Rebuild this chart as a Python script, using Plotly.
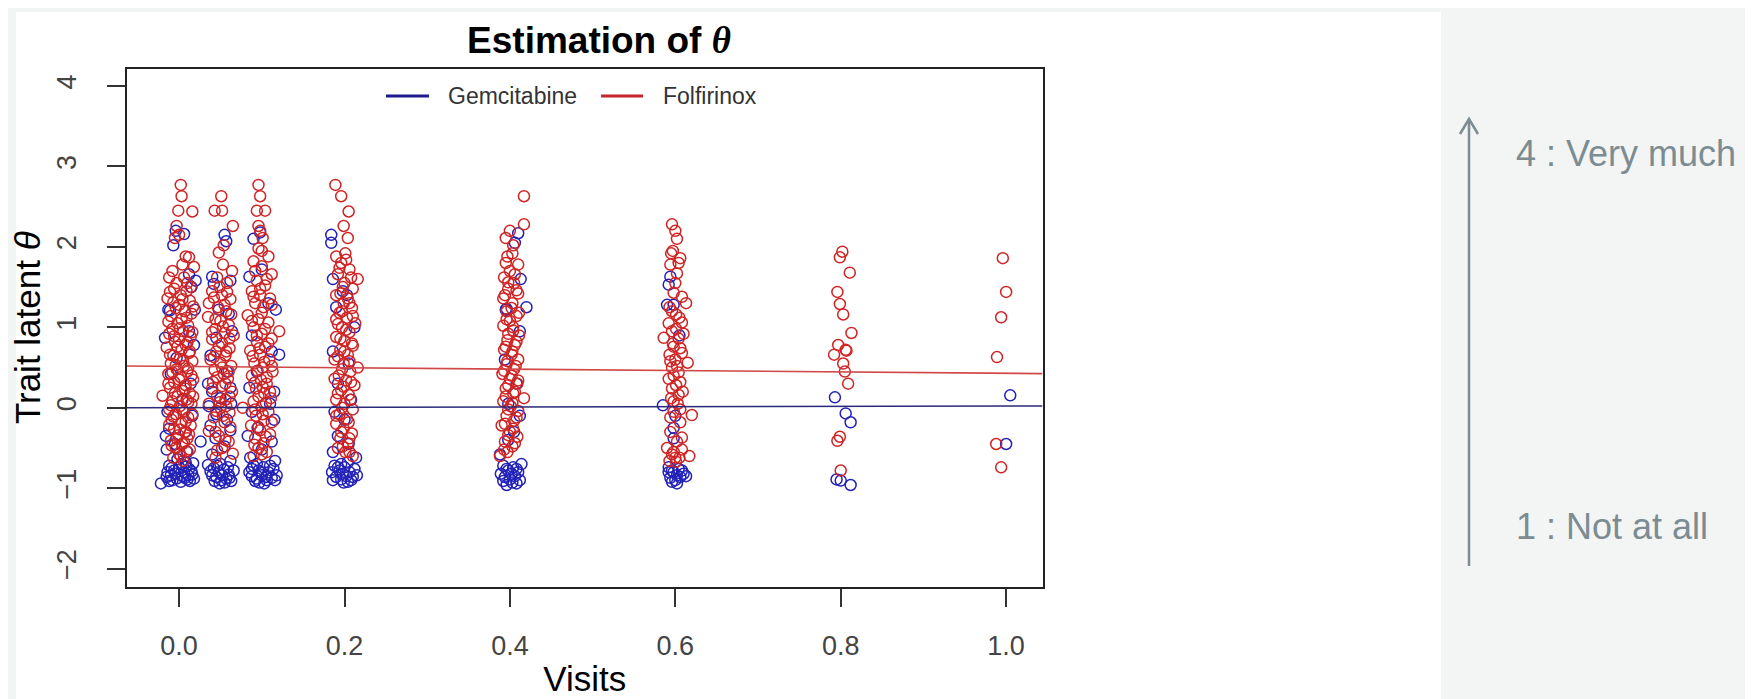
import plotly.graph_objects as go

# ---------------- data ----------------
visits = [0.0, 0.05, 0.1, 0.2, 0.4, 0.6, 0.8, 1.0]
x_tick_vals = [0.0, 0.2, 0.4, 0.6, 0.8, 1.0]
x_tick_text = ["0.0", "0.2", "0.4", "0.6", "0.8", "1.0"]
y_tick_vals = [-2, -1, 0, 1, 2, 3, 4]
series_names = ["Gemcitabine", "Folfirinox"]

# Gemcitabine (blue) jittered points (x, theta)
gem_v0 = [(-0.007,2.02),(-0.004,2.20),(0.006,2.16),(0.012,1.66),(0.020,1.58),(0.015,1.50),(-0.013,1.22),(-0.011,1.21),
          (0.019,1.22),(-0.017,0.87),(0.012,0.95),(0.018,0.78),(-0.003,0.62),(0.014,0.30),(-0.010,0.42),(0.004,0.10),
          (-0.014,-0.05),(0.016,-0.10),(-0.012,-0.26),(-0.016,-0.35),(0.008,-0.30),(-0.005,-0.45),(-0.015,-0.52),
          (0.010,-0.55),(0.017,-0.69),(-0.022,-0.94),(-0.012,-0.72),(-0.006,-0.78),(0.000,-0.74),(0.006,-0.80),
          (0.012,-0.76),(-0.010,-0.84),(-0.003,-0.88),(0.004,-0.85),(0.010,-0.89),(0.016,-0.83),(-0.008,-0.90),
          (0.002,-0.92),(0.013,-0.91),(-0.014,-0.80),(0.008,-0.68),(-0.002,-0.64),(0.018,-0.88),
          (-0.015,-0.86),(-0.009,-0.75),(0.003,-0.70),(0.009,-0.73),(0.015,-0.79),(-0.005,-0.82),(0.007,-0.87),
          (-0.012,-0.91),(0.011,-0.84)]
gem_v05 = [(0.055,2.15),(0.057,2.07),(0.040,1.63),(0.042,1.54),(0.062,1.58),(0.060,1.17),(0.048,1.22),(0.045,0.87),
           (0.064,0.95),(0.038,0.65),(0.058,0.45),(0.035,0.30),(0.040,0.20),(0.062,0.25),(0.050,0.12),(0.036,0.02),
           (0.063,0.05),(0.045,-0.08),(0.058,-0.15),(0.038,-0.22),(0.062,-0.28),(0.026,-0.42),(0.044,-0.38),
           (0.055,-0.48),(0.040,-0.58),(0.035,-0.71),(0.062,-0.66),(0.042,-0.75),(0.048,-0.80),(0.054,-0.77),
           (0.060,-0.83),(0.045,-0.86),(0.051,-0.90),(0.057,-0.88),(0.040,-0.84),(0.063,-0.91),(0.049,-0.94),
           (0.055,-0.93),(0.066,-0.78),
           (0.038,-0.79),(0.046,-0.72),(0.052,-0.84),(0.059,-0.74),(0.043,-0.91),(0.061,-0.87),(0.050,-0.70)]
gem_v1 = [(0.090,2.10),(0.098,2.18),(0.085,1.63),(0.100,1.72),(0.117,1.22),(0.108,1.30),(0.112,0.70),(0.121,0.66),
          (0.088,0.90),(0.115,0.20),(0.094,0.45),(0.085,0.25),(0.110,0.05),(0.088,-0.05),(0.115,-0.15),(0.095,-0.25),
          (0.083,-0.35),(0.112,-0.42),(0.100,-0.52),(0.086,-0.62),(0.116,-0.66),(0.090,-0.72),(0.096,-0.78),
          (0.102,-0.74),(0.108,-0.80),(0.114,-0.76),(0.088,-0.85),(0.094,-0.88),(0.100,-0.84),(0.106,-0.90),
          (0.112,-0.87),(0.097,-0.93),(0.103,-0.94),(0.085,-0.80),(0.118,-0.84),
          (0.088,-0.76),(0.094,-0.70),(0.105,-0.86),(0.110,-0.72),(0.092,-0.91),(0.116,-0.90),(0.099,-0.80)]
gem_v2 = [(0.184,2.15),(0.184,2.05),(0.186,1.60),(0.203,1.40),(0.198,1.45),(0.190,1.25),(0.212,1.00),(0.186,0.70),
          (0.205,0.55),(0.192,0.30),(0.208,0.10),(0.188,-0.05),(0.200,-0.15),(0.192,-0.35),(0.205,-0.45),
          (0.186,-0.55),(0.214,-0.62),(0.188,-0.72),(0.194,-0.78),(0.200,-0.74),(0.206,-0.80),(0.212,-0.76),
          (0.190,-0.86),(0.196,-0.89),(0.202,-0.85),(0.208,-0.90),(0.199,-0.93),(0.185,-0.80),(0.215,-0.84),
          (0.204,-0.68),
          (0.192,-0.74),(0.198,-0.82),(0.204,-0.92),(0.210,-0.86),(0.186,-0.90),(0.196,-0.70)]
gem_v4 = [(0.410,2.17),(0.406,2.05),(0.413,1.60),(0.420,1.25),(0.395,1.22),(0.396,1.23),(0.412,0.95),(0.394,0.60),
          (0.408,0.30),(0.398,0.05),(0.412,-0.10),(0.405,-0.30),(0.398,-0.40),(0.388,-0.58),(0.392,-0.72),
          (0.398,-0.78),(0.404,-0.74),(0.410,-0.80),(0.394,-0.86),(0.400,-0.89),(0.406,-0.85),(0.412,-0.90),
          (0.396,-0.96),(0.403,-0.93),(0.389,-0.82),(0.414,-0.70),
          (0.396,-0.76),(0.402,-0.82),(0.408,-0.76),(0.392,-0.91),(0.408,-0.94)]
gem_v6 = [(0.594,1.63),(0.592,1.53),(0.590,1.28),(0.598,1.28),(0.605,0.90),(0.585,0.03),(0.598,-0.25),(0.598,-0.38),
          (0.600,-0.10),(0.592,-0.74),(0.598,-0.80),(0.604,-0.76),(0.610,-0.82),(0.594,-0.87),(0.600,-0.90),
          (0.606,-0.86),(0.613,-0.85),(0.602,-0.94),(0.596,-0.92),
          (0.596,-0.78),(0.608,-0.78),(0.602,-0.84),(0.592,-0.80)]
gem_v8 = [(0.793,0.13),(0.806,-0.07),(0.812,-0.18),(0.795,-0.89),(0.800,-0.905),(0.812,-0.96)]
gem_v10 = [(1.005,0.155),(1.000,-0.45)]

# Folfirinox (red) jittered points (x, theta)
fol_v0 = [(0.002,2.77),(0.003,2.63),(-0.001,2.45),(0.016,2.44),(-0.003,2.26),(0.000,2.15),(-0.005,2.11),(0.008,1.88),
          (0.012,1.87),(-0.008,1.70),(0.004,1.78),(0.018,1.75),(-0.012,1.62),(0.010,1.55),(-0.006,1.48),(0.009,1.45),
          (0.002,1.40),(-0.014,1.36),(0.013,1.33),(0.000,1.28),(-0.004,1.24),(0.007,1.20),(0.015,1.17),(-0.010,1.14),
          (0.003,1.10),(-0.002,1.05),(0.011,1.02),(-0.008,0.98),(0.005,0.95),(-0.012,0.92),(0.014,0.88),(0.000,0.85),
          (-0.005,0.82),(0.008,0.78),(-0.015,0.75),(0.003,0.72),(0.012,0.68),(-0.007,0.65),(0.001,0.61),(0.016,0.58),
          (-0.010,0.55),(0.006,0.52),(-0.003,0.48),(0.010,0.45),(-0.013,0.42),(0.002,0.38),(0.017,0.35),(-0.006,0.32),
          (0.008,0.28),(-0.011,0.25),(0.004,0.21),(-0.020,0.15),(0.013,0.18),(-0.002,0.14),(0.009,0.10),(-0.008,0.08),
          (0.015,0.05),(0.001,0.02),(-0.012,-0.02),(0.006,-0.05),(-0.004,-0.08),(0.011,-0.12),(-0.009,-0.15),
          (0.003,-0.19),(0.014,-0.22),(-0.006,-0.26),(0.007,-0.30),(-0.001,-0.34),(0.010,-0.38),(-0.010,-0.41),
          (0.004,-0.45),(-0.004,-0.50),(0.009,-0.54),(0.000,-0.58),(-0.007,-0.62),(0.005,-0.66),
          (0.006,1.62),(-0.003,1.55),(0.014,1.50),(-0.011,1.44),(0.004,1.35),(0.017,1.26),(-0.007,1.31),(0.009,1.12),
          (-0.013,1.07),(0.001,0.99),(0.016,0.94),(-0.006,0.89),(0.010,0.81),(-0.002,0.76),(0.013,0.70),(-0.011,0.66),
          (0.005,0.58),(-0.004,0.53),(0.011,0.49),(-0.008,0.44),(0.015,0.40),(0.000,0.35),(-0.013,0.30),(0.007,0.24),
          (0.017,0.14),(-0.005,0.18),(0.011,0.07),(-0.010,0.03),(0.004,-0.02),(0.016,-0.08),(-0.007,-0.11),
          (0.008,-0.17),(-0.012,-0.21),(0.001,-0.27),(0.012,-0.33),(-0.003,-0.38),(0.006,-0.43),(-0.009,-0.47),
          (0.013,-0.52),(0.002,-0.60)]
fol_v05 = [(0.051,2.63),(0.043,2.45),(0.052,2.45),(0.065,2.26),(0.054,2.02),(0.048,1.93),(0.053,1.78),(0.064,1.70),
           (0.046,1.62),(0.058,1.55),(0.040,1.45),(0.052,1.40),(0.062,1.35),(0.036,1.30),(0.047,1.25),(0.057,1.20),
           (0.035,1.13),(0.050,1.08),(0.060,1.03),(0.044,0.98),(0.055,0.93),(0.066,0.90),(0.040,0.85),(0.052,0.80),
           (0.061,0.74),(0.045,0.70),(0.056,0.65),(0.038,0.60),(0.050,0.56),(0.063,0.52),(0.043,0.47),(0.054,0.42),
           (0.059,0.36),(0.041,0.32),(0.052,0.27),(0.064,0.20),(0.046,0.15),(0.056,0.10),(0.036,0.05),(0.050,0.00),
           (0.061,-0.06),(0.042,-0.12),(0.055,-0.18),(0.036,-0.29),(0.048,-0.35),(0.060,-0.42),(0.052,-0.50),
           (0.065,-0.57),(0.044,-0.62),
           (0.049,1.50),(0.058,1.44),(0.042,1.37),(0.055,1.28),(0.063,1.16),(0.044,1.10),(0.053,1.01),(0.040,0.94),
           (0.061,0.86),(0.048,0.77),(0.057,0.70),(0.042,0.63),(0.052,0.50),(0.060,0.45),(0.046,0.38),(0.056,0.30),
           (0.040,0.24),(0.061,0.14),(0.049,0.07),(0.057,0.02),(0.045,-0.04),(0.053,-0.10),(0.062,-0.24),
           (0.044,-0.30),(0.056,-0.40),(0.046,-0.53)]
fol_v1 = [(0.096,2.77),(0.098,2.63),(0.094,2.45),(0.104,2.45),(0.096,2.26),(0.098,2.20),(0.101,2.11),(0.096,1.98),
          (0.108,1.88),(0.090,1.82),(0.100,1.76),(0.112,1.66),(0.094,1.58),(0.104,1.52),(0.088,1.45),(0.098,1.40),
          (0.110,1.36),(0.092,1.30),(0.102,1.25),(0.083,1.15),(0.096,1.10),(0.108,1.06),(0.121,0.95),(0.090,1.00),
          (0.100,0.92),(0.112,0.86),(0.094,0.82),(0.104,0.76),(0.086,0.71),(0.098,0.66),(0.109,0.60),(0.091,0.55),
          (0.101,0.50),(0.113,0.45),(0.088,0.40),(0.099,0.35),(0.106,0.30),(0.093,0.24),(0.103,0.18),(0.111,0.12),
          (0.090,0.08),(0.077,0.00),(0.100,0.02),(0.108,-0.05),(0.093,-0.10),(0.103,-0.16),(0.087,-0.22),
          (0.098,-0.28),(0.110,-0.33),(0.092,-0.38),(0.102,-0.44),(0.096,-0.50),(0.106,-0.55),(0.090,-0.60),
          (0.100,1.95),(0.092,1.70),(0.106,1.60),(0.098,1.48),(0.090,1.38),(0.112,1.28),(0.100,1.18),(0.088,1.08),
          (0.104,0.98),(0.094,0.90),(0.108,0.80),(0.097,0.74),(0.089,0.64),(0.103,0.57),(0.112,0.52),(0.095,0.46),
          (0.106,0.38),(0.091,0.31),(0.101,0.26),(0.110,0.20),(0.096,0.14),(0.105,0.06),(0.092,-0.02),(0.101,-0.08),
          (0.112,-0.18),(0.096,-0.24),(0.105,-0.36),(0.091,-0.46),(0.100,-0.58)]
fol_v2 = [(0.189,2.77),(0.196,2.63),(0.205,2.44),(0.199,2.26),(0.204,2.11),(0.190,1.88),(0.201,1.92),(0.196,1.80),
          (0.206,1.72),(0.216,1.60),(0.192,1.66),(0.200,1.55),(0.210,1.48),(0.195,1.42),(0.204,1.36),(0.190,1.10),
          (0.199,1.30),(0.209,1.24),(0.194,1.18),(0.203,1.12),(0.213,1.05),(0.197,1.00),(0.206,0.94),(0.190,0.88),
          (0.200,0.83),(0.210,0.77),(0.195,0.72),(0.204,0.66),(0.188,0.60),(0.199,0.55),(0.216,0.50),(0.207,0.45),
          (0.193,0.40),(0.202,0.34),(0.212,0.28),(0.196,0.22),(0.205,0.16),(0.190,0.10),(0.200,0.05),(0.210,-0.02),
          (0.194,-0.08),(0.203,-0.14),(0.190,-0.20),(0.199,-0.26),(0.209,-0.32),(0.195,-0.38),(0.204,-0.44),
          (0.192,-0.50),(0.201,-0.55),(0.210,-0.60),
          (0.202,1.84),(0.194,1.74),(0.208,1.62),(0.198,1.50),(0.190,1.40),(0.206,1.30),(0.197,1.20),(0.210,1.14),
          (0.192,1.04),(0.202,0.97),(0.195,0.86),(0.209,0.80),(0.200,0.70),(0.192,0.64),(0.206,0.58),(0.197,0.48),
          (0.188,0.36),(0.208,0.32),(0.199,0.26),(0.192,0.18),(0.207,0.10),(0.197,0.00),(0.190,-0.10),(0.205,-0.18),
          (0.196,-0.30),(0.206,-0.38),(0.198,-0.48),(0.206,-0.55)]
fol_v4 = [(0.417,2.63),(0.417,2.28),(0.395,2.11),(0.400,2.20),(0.404,2.02),(0.397,1.88),(0.410,1.78),(0.400,1.70),
          (0.393,1.62),(0.405,1.55),(0.398,1.48),(0.410,1.42),(0.392,1.36),(0.403,1.30),(0.396,1.20),(0.408,1.14),
          (0.400,1.08),(0.392,1.02),(0.404,0.96),(0.411,0.90),(0.397,0.84),(0.406,0.78),(0.393,0.72),(0.402,0.66),
          (0.410,0.60),(0.396,0.54),(0.405,0.48),(0.391,0.42),(0.400,0.36),(0.409,0.30),(0.395,0.24),(0.404,0.18),
          (0.417,0.12),(0.392,0.08),(0.401,0.02),(0.410,-0.04),(0.396,-0.10),(0.405,-0.16),(0.390,-0.22),
          (0.400,-0.30),(0.409,-0.36),(0.394,-0.42),(0.403,-0.48),(0.397,-0.55),(0.388,-0.60),
          (0.403,1.92),(0.395,1.80),(0.406,1.66),(0.398,1.56),(0.408,1.46),(0.394,1.40),(0.402,1.24),(0.411,1.18),
          (0.396,1.10),(0.404,1.00),(0.398,0.92),(0.408,0.82),(0.395,0.76),(0.403,0.70),(0.397,0.58),(0.407,0.52),
          (0.393,0.46),(0.402,0.40),(0.410,0.34),(0.398,0.28),(0.406,0.20),(0.395,0.14),(0.403,0.06),(0.398,-0.02),
          (0.408,-0.12),(0.394,-0.20),(0.404,-0.26),(0.398,-0.34),(0.406,-0.44),(0.393,-0.52)]
fol_v6 = [(0.596,2.28),(0.600,2.20),(0.597,1.95),(0.606,1.86),(0.594,1.78),(0.602,1.67),(0.598,1.43),(0.613,1.30),
          (0.596,1.20),(0.605,1.12),(0.592,1.05),(0.601,0.98),(0.610,0.92),(0.586,0.87),(0.597,0.80),(0.606,0.74),
          (0.593,0.66),(0.615,0.56),(0.600,0.60),(0.596,0.50),(0.604,0.44),(0.592,0.36),(0.601,0.28),(0.609,0.20),
          (0.595,0.12),(0.603,0.05),(0.620,-0.09),(0.598,-0.05),(0.606,-0.18),(0.608,-0.37),(0.594,-0.30),
          (0.590,-0.50),(0.598,-0.55),(0.605,-0.62),(0.617,-0.60),(0.593,-0.66),(0.601,-0.67),
          (0.602,2.10),(0.595,1.92),(0.604,1.80),(0.600,1.55),(0.608,1.38),(0.593,1.25),(0.601,1.16),(0.608,1.06),
          (0.596,0.95),(0.604,0.86),(0.598,0.76),(0.608,0.68),(0.594,0.58),(0.602,0.52),(0.598,0.40),(0.606,0.32),
          (0.596,0.24),(0.604,0.16),(0.598,0.08),(0.606,-0.02),(0.594,-0.12),(0.602,-0.42),(0.596,-0.58),
          (0.608,-0.52),(0.600,-0.62)]
fol_v8 = [(0.802,1.94),(0.799,1.87),(0.811,1.68),(0.796,1.44),(0.799,1.29),(0.803,1.16),(0.813,0.93),(0.797,0.78),
          (0.806,0.72),(0.792,0.66),(0.807,0.71),(0.803,0.55),(0.805,0.45),(0.809,0.30),(0.799,-0.36),
          (0.796,-0.41),(0.800,-0.78)]
fol_v10 = [(0.996,1.86),(1.000,1.44),(0.994,1.125),(0.989,0.63),(0.988,-0.45),(0.994,-0.74)]

gem_points = gem_v0 + gem_v05 + gem_v1 + gem_v2 + gem_v4 + gem_v6 + gem_v8 + gem_v10
fol_points = fol_v0 + fol_v05 + fol_v1 + fol_v2 + fol_v4 + fol_v6 + fol_v8 + fol_v10

# fitted mean trajectories (spanning the whole plotting window)
line_x = [-0.063, 1.044]
gem_line = [0.0, 0.022]
fol_line = [0.52, 0.425]

# ---------------- styling / layout helpers ----------------
W, H = 1753, 699
def px(x):
    return x / W
def py(y):
    return 1 - y / H

BLUE_PT = "#2222b8"
RED_PT = "#d02424"
BLUE_LN = "#2a2a7a"
RED_LN = "#d04848"
SIDE = "#7b8c92"
FONT = "Liberation Sans, Arial, sans-serif"

fig = go.Figure()
fig.add_trace(go.Scatter(
    x=[p[0] for p in gem_points], y=[p[1] for p in gem_points], mode="markers",
    name=series_names[0], showlegend=False,
    marker=dict(symbol="circle-open", size=11, color=BLUE_PT, line=dict(width=1.5))))
fig.add_trace(go.Scatter(
    x=[p[0] for p in fol_points], y=[p[1] for p in fol_points], mode="markers",
    name=series_names[1], showlegend=False,
    marker=dict(symbol="circle-open", size=11, color=RED_PT, line=dict(width=1.5))))
fig.add_trace(go.Scatter(x=line_x, y=gem_line, mode="lines", showlegend=False,
                         line=dict(color=BLUE_LN, width=1.6)))
fig.add_trace(go.Scatter(x=line_x, y=fol_line, mode="lines", showlegend=False,
                         line=dict(color=RED_LN, width=1.6)))

axis_common = dict(showline=True, linecolor="#222222", linewidth=2, mirror=True,
                   ticks="outside", ticklen=18, tickwidth=2, tickcolor="#333333",
                   showgrid=False, zeroline=False,
                   tickfont=dict(family=FONT, size=27, color="#444444"))

fig.update_layout(
    width=W, height=H, autosize=False,
    margin=dict(l=0, r=0, t=0, b=0),
    paper_bgcolor="#f3f4f4", plot_bgcolor="white",
    title=dict(text="<b>Estimation of <i style='font-family:Liberation Serif'>θ</i></b>",
               x=px(591), y=py(32), xref="paper", yref="paper",
               xanchor="center", yanchor="middle",
               font=dict(family=FONT, size=37, color="black")),
    xaxis=dict(domain=[px(119), px(1034.5)], range=[-0.063, 1.044],
               tickvals=x_tick_vals, ticktext=x_tick_text, ticklabelstandoff=16,
               title=dict(text="Visits", standoff=6, font=dict(family=FONT, size=35, color="black")),
               **axis_common),
    yaxis=dict(domain=[1 - 578.7 / H, 1 - 60.7 / H], range=[-2.224, 4.215],
               tickvals=y_tick_vals, tickangle=-90, ticklabelstandoff=20,
               title=dict(text="Trait latent <i>θ</i>", standoff=4,
                          font=dict(family=FONT, size=35, color="black")),
               **axis_common),
    showlegend=False,
)

shapes = [
    # white slide panel behind the chart
    dict(type="rect", xref="paper", yref="paper", x0=px(8), x1=px(1433), y0=0, y1=py(4),
         fillcolor="white", line=dict(width=0), layer="below"),
    # manual legend keys
    dict(type="line", xref="paper", yref="paper", x0=px(378), x1=px(421), y0=py(88), y1=py(88),
         line=dict(color="#1c1c8c", width=3)),
    dict(type="line", xref="paper", yref="paper", x0=px(593), x1=px(635), y0=py(88), y1=py(88),
         line=dict(color="#c8222c", width=3)),
    # side scale arrow
    dict(type="line", xref="paper", yref="paper", x0=px(1461), x1=px(1461), y0=py(558), y1=py(111),
         line=dict(color=SIDE, width=2.5)),
    dict(type="path", xref="paper", yref="paper",
         path=f"M {px(1452)},{py(126)} L {px(1461)},{py(111)} L {px(1470)},{py(126)}",
         line=dict(color=SIDE, width=2.5)),
]
fig.update_layout(shapes=shapes)

annotations = [
    dict(text=series_names[0], x=px(438), y=py(88), xref="paper", yref="paper", xanchor="left",
         yanchor="middle", showarrow=False, font=dict(family=FONT, size=23, color="#333333")),
    dict(text=series_names[1], x=px(653), y=py(88), xref="paper", yref="paper", xanchor="left",
         yanchor="middle", showarrow=False, font=dict(family=FONT, size=23, color="#333333")),
    dict(text="4 : Very much", x=px(1506), y=py(145), xref="paper", yref="paper", xanchor="left",
         yanchor="middle", showarrow=False, font=dict(family=FONT, size=36, color=SIDE)),
    dict(text="1 : Not at all", x=px(1506), y=py(518), xref="paper", yref="paper", xanchor="left",
         yanchor="middle", showarrow=False, font=dict(family=FONT, size=36, color=SIDE)),
]
fig.update_layout(annotations=annotations)

fig.write_html("out.html")
